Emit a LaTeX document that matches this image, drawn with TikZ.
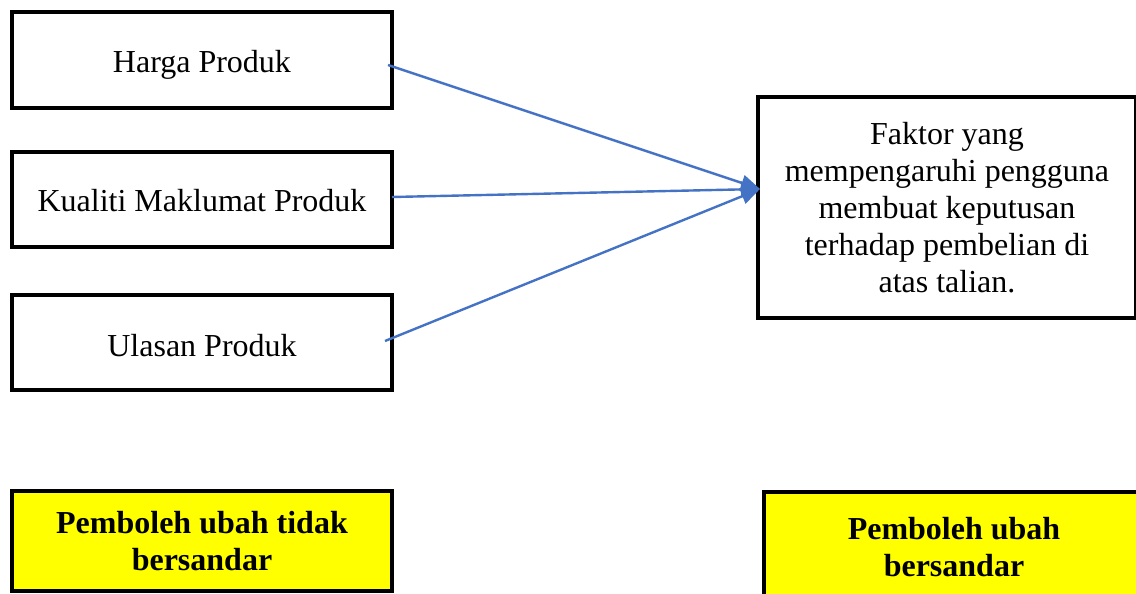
\documentclass[tikz,border=0pt]{standalone}
\usepackage{fontspec}
\setmainfont{Liberation Serif}
\usetikzlibrary{arrows.meta}
\definecolor{arrowblue}{RGB}{68,114,196}
\definecolor{varyellow}{RGB}{255,255,0}
\newcommand{\lowertext}[2]{\raisebox{-#1}[\height][\depth]{#2}}
\tikzset{
  box/.style={draw=black, line width=4pt, fill=white, inner sep=0pt, align=center,
    font=\fontsize{32}{37}\selectfont},
  varbox/.style={box, fill=varyellow, font=\fontsize{32}{37}\selectfont\bfseries},
  link/.style={draw=arrowblue, line width=2.4pt, -{Triangle[length=19pt,width=16pt]}}
}
\begin{document}
\begin{tikzpicture}[x=1pt,y=-1pt]
\useasboundingbox (0,0) rectangle (1136,594);
\clip (0,0) rectangle (1136,594);
\node[box, minimum width=380pt, minimum height=95.5pt] (harga) at (202,60.25) {\lowertext{5pt}{Harga Produk}};
\node[box, minimum width=380pt, minimum height=95pt] (kualiti) at (202,199.5) {\lowertext{1pt}{Kualiti Maklumat Produk}};
\node[box, minimum width=380pt, minimum height=95pt] (ulasan) at (202,342.5) {\lowertext{3pt}{Ulasan Produk}};
\node[box, minimum width=378.5pt, minimum height=221.5pt] (faktor) at (947,207.5)
  {Faktor yang\\mempengaruhi pengguna\\membuat keputusan\\terhadap pembelian di\\atas talian.};
\node[varbox, minimum width=380.5pt, minimum height=99.5pt] (bebas) at (202,541)
  {Pemboleh ubah tidak\\bersandar};
\node[varbox, minimum width=380pt, minimum height=110pt] (sandar) at (954,547)
  {Pemboleh ubah\\bersandar};
\coordinate (s1) at (388,65);
\coordinate (s2) at (392,197);
\coordinate (s3) at (385,341);
\coordinate (tip) at (760,189);
\draw[link] (s1) -- (tip);
\draw[link] (s3) -- (tip);
\draw[link] (s2) -- (tip);
\end{tikzpicture}
\end{document}
